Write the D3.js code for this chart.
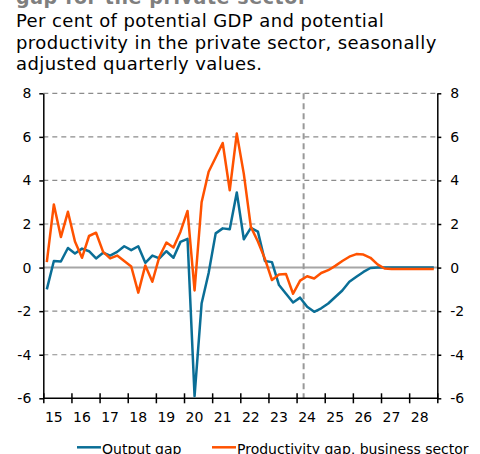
<!DOCTYPE html>
<html>
<head>
<meta charset="utf-8">
<script src="https://cdn.jsdelivr.net/npm/d3@7"></script>
<style>
  body { margin: 0; background: #fff; }
  svg { display: block; font-family: "DejaVu Sans", Verdana, sans-serif; }
</style>
</head>
<body>
<script>
// Quarterly values, 2015 Q1 .. 2028 Q4 (56 quarters)
var startYear = 2015;
var outputGap = [
  -1.0, 0.3, 0.28, 0.9,     0.65, 0.87, 0.75, 0.42,
  0.68, 0.55, 0.72, 0.98,   0.8, 0.98, 0.22, 0.55,
  0.42, 0.75, 0.45, 1.18,   1.32, -5.9, -1.65, -0.25,
  1.57, 1.8, 1.76, 3.45,    1.3, 1.82, 1.65, 0.3,
  0.25, -0.8, -1.2, -1.6,   -1.38, -1.8, -2.03, -1.87,
  -1.65, -1.35, -1.05, -0.65, -0.42, -0.2, -0.02, 0,
  0, 0, 0, 0,               0, 0, 0, 0
];
var productivityGap = [
  0.25, 2.9, 1.4, 2.56,     1.2, 0.45, 1.45, 1.6,
  0.72, 0.42, 0.55, 0.3,    0.05, -1.15, 0.1, -0.65,
  0.5, 1.15, 0.92, 1.65,    2.6, -1.05, 3.0, 4.4,
  5.05, 5.72, 3.55, 6.15,   4.3, 1.87, 1.2, 0.4,
  -0.57, -0.32, -0.3, -1.2, -0.6, -0.4, -0.5, -0.25,
  -0.12, 0.08, 0.3, 0.5,    0.62, 0.6, 0.45, 0.15,
  -0.04, -0.07, -0.07, -0.07, -0.07, -0.07, -0.07, -0.07
];
var yearLabels = ["15","16","17","18","19","20","21","22","23","24","25","26","27","28"];
var yTicks = [-6, -4, -2, 0, 2, 4, 6, 8];
var forecastStart = 2024.25; // dashed vertical line
var seriesNames = ["Output gap", "Productivity gap, business sector"];
var seriesColors = ["#0a6e96", "#ff5200"];

var width = 480, height = 454;
var margin = {left: 43.3, right: 42.7, top: 93.3, bottom: 55.7};

var svg = d3.select("body").append("svg")
    .attr("width", width).attr("height", height);

// Title (top cut off) and subtitle
svg.append("text").attr("x", 16).attr("y", 4)
    .attr("font-size", 19).attr("font-weight", "bold").attr("fill", "#7f7f7f")
    .attr("letter-spacing", 0.6)
    .text("gap for the private sector");
var subtitle = ["Per cent of potential GDP and potential",
                "productivity in the private sector, seasonally",
                "adjusted quarterly values."];
svg.append("g").selectAll("text").data(subtitle).join("text")
    .attr("x", 16).attr("y", function(d, i){ return 27 + i * 21.5; })
    .attr("font-size", 18).attr("fill", "#000").attr("letter-spacing", 0.4)
    .text(function(d){ return d; });

// Scales
var x = d3.scaleLinear()
    .domain([startYear, startYear + yearLabels.length])
    .range([margin.left, width - margin.right]);
var y = d3.scaleLinear()
    .domain([-6, 8])
    .range([height - margin.bottom, margin.top]);

// Gridlines
svg.append("g").selectAll("line").data(yTicks.filter(function(d){ return d > -6; })).join("line")
    .attr("x1", x.range()[0]).attr("x2", x.range()[1])
    .attr("y1", function(d){ return y(d); }).attr("y2", function(d){ return y(d); })
    .attr("stroke", function(d){ return d === 0 ? "#a6a6a6" : "#8c8c8c"; })
    .attr("stroke-width", function(d){ return d === 0 ? 2 : 1.2; })
    .attr("stroke-dasharray", function(d){ return d === 0 ? null : "5,4"; });

// Forecast divider
svg.append("line")
    .attr("x1", x(forecastStart)).attr("x2", x(forecastStart))
    .attr("y1", y(8)).attr("y2", y(-6))
    .attr("stroke", "#999").attr("stroke-width", 2).attr("stroke-dasharray", "6,4");

// Axes
var fmt = function(d){ return String(d); };
var leftAxis = svg.append("g").attr("transform", "translate(" + x.range()[0] + ",0)")
    .call(d3.axisLeft(y).tickValues(yTicks).tickSize(4).tickPadding(8).tickSizeOuter(0).tickFormat(fmt));
var rightAxis = svg.append("g").attr("transform", "translate(" + x.range()[1] + ",0)")
    .call(d3.axisRight(y).tickValues(yTicks).tickSize(4).tickPadding(9).tickSizeOuter(0).tickFormat(fmt));
[leftAxis, rightAxis].forEach(function(a){
  a.selectAll("text").attr("font-size", 14).attr("fill", "#000").attr("font-family", "DejaVu Sans, Verdana, sans-serif");
  a.selectAll("line, path").attr("stroke", "#000").attr("stroke-width", 1.5);
});

var yearTicks = d3.range(startYear, startYear + yearLabels.length + 1);
var bottomTicks = svg.append("g").attr("transform", "translate(0," + (y(-6) - 5) + ")")
    .call(d3.axisBottom(x).tickValues(yearTicks).tickSize(10).tickFormat(""));
bottomTicks.select(".domain").remove();
bottomTicks.selectAll("line").attr("stroke", "#000").attr("stroke-width", 1.5);
svg.append("line")
    .attr("x1", x.range()[0]).attr("x2", x.range()[1])
    .attr("y1", y(-6)).attr("y2", y(-6))
    .attr("stroke", "#000").attr("stroke-width", 1.5);
svg.append("g").selectAll("text").data(yearLabels).join("text")
    .attr("x", function(d, i){ return x(startYear + i) + 10.5; })
    .attr("y", y(-6) + 23.5)
    .attr("text-anchor", "middle").attr("font-size", 14).attr("fill", "#000")
    .text(function(d){ return d; });

// Lines
var line = d3.line()
    .x(function(d, i){ return x(startYear + (i + 0.5) / 4); })
    .y(function(d){ return y(d); });
[outputGap, productivityGap].forEach(function(s, k){
  svg.append("path").attr("d", line(s))
      .attr("fill", "none").attr("stroke", seriesColors[k])
      .attr("stroke-width", 2.5).attr("stroke-linejoin", "round");
});

// Legend
var legendX = [77, 212];
seriesNames.forEach(function(name, k){
  svg.append("line")
      .attr("x1", legendX[k]).attr("x2", legendX[k] + 24)
      .attr("y1", 447.3).attr("y2", 447.3)
      .attr("stroke", seriesColors[k]).attr("stroke-width", 2.5);
  svg.append("text").attr("x", legendX[k] + 25).attr("y", 453.5)
      .attr("font-size", 14).attr("fill", "#000").text(name);
});
</script>
</body>
</html>
